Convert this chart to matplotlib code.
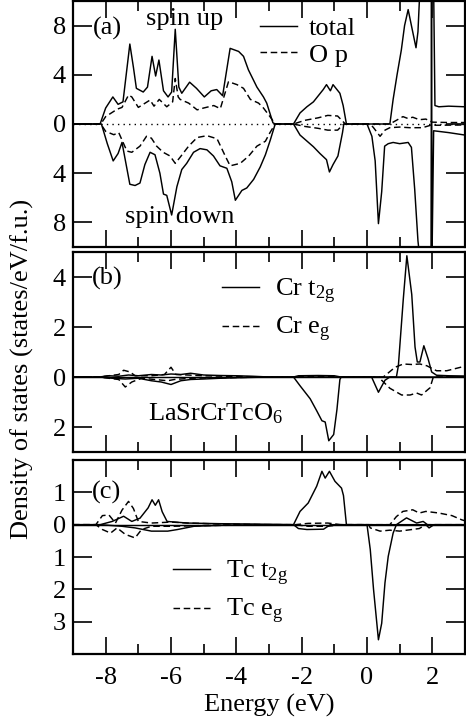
import matplotlib
matplotlib.use("Agg")
import matplotlib.pyplot as plt
from matplotlib.ticker import MultipleLocator

plt.rcParams['font.family'] = ['Liberation Serif', 'DejaVu Serif']
plt.rcParams['mathtext.fontset'] = 'custom'
plt.rcParams['mathtext.rm'] = 'Liberation Serif'
plt.rcParams['mathtext.it'] = 'Liberation Serif:italic'
FS = 19

# ---------------- Panel (a): total and O p ----------------
a_tot_up_E = [-9, -8.17, -8.0, -7.78, -7.62, -7.47, -7.26, -7.15, -7.06, -6.85, -6.72, -6.58, -6.47,
              -6.37, -6.23, -6.09, -5.98, -5.87, -5.76, -5.67, -5.43, -5.22, -4.98, -4.77, -4.6,
              -4.42, -4.19, -3.93, -3.78, -3.63, -3.37, -3.17, -3.07, -2.88, -2.81, -2.25, -2.05,
              -1.84, -1.64, -1.34, -1.24, -1.12, -1.04, -0.83, -0.73, -0.63, 0.7, 0.8, 0.92, 1.05,
              1.15, 1.26, 1.36, 1.5, 1.56, 1.62, 2.04, 2.08, 2.2, 2.5, 3.0]
a_tot_up_v = [0, 0, 1.3, 2.2, 1.6, 1.8, 6.5, 4.6, 2.9, 2.6, 3.0, 5.5, 3.9,
              5.2, 2.7, 2.2, 2.6, 7.7, 3.0, 2.5, 3.4, 2.9, 2.2, 2.7, 2.8,
              2.3, 6.15, 5.9, 5.5, 4.4, 3.0, 2.2, 1.7, 0.1, 0, 0, 0.9,
              1.4, 1.8, 2.8, 3.2, 2.7, 3.2, 2.5, 1.5, 0, 0, 2.0, 4.0, 6.0,
              8.0, 9.3, 8.0, 6.2, 7.5, 11, 11, 1.5, 1.4, 1.45, 1.4]

a_tot_dn_E = [-9, -8.13, -7.95, -7.77, -7.62, -7.5, -7.26, -7.1, -6.95, -6.8, -6.64, -6.49, -6.34,
              -6.23, -6.13, -5.98, -5.82, -5.67, -5.52, -5.31, -5.11, -4.9, -4.7, -4.5, -4.29,
              -4.14, -4.03, -3.83, -3.68, -3.47, -3.27, -3.11, -2.96, -2.81, -2.25, -2.05, -1.64,
              -1.44, -1.24, -1.15, -1.04, -0.89, -0.75, -0.71, 0.0, 0.15, 0.25, 0.35, 0.45, 0.54,
              0.65, 0.8, 1.0, 1.26, 1.36, 1.46, 1.56, 1.62, 1.96, 1.975, 1.99, 2.04, 2.5, 3.0]
a_tot_dn_v = [0, 0, -1.6, -3.0, -2.4, -1.5, -4.9, -5.0, -4.8, -3.3, -2.3, -2.5, -4.0,
              -5.7, -5.8, -7.4, -5.1, -3.7, -3.2, -2.3, -2.0, -2.1, -2.6, -3.4, -3.6,
              -4.7, -6.2, -5.4, -5.2, -4.5, -3.5, -2.5, -1.3, 0, 0, -0.9, -1.85,
              -2.4, -2.9, -3.9, -3.3, -2.6, -0.7, 0, 0, -1.0, -3.0, -8.1, -5.5, -1.8,
              -1.6, -1.5, -1.6, -1.5, -1.9, -5.3, -9.5, -11, -11, 11, -11, -0.55, -0.7, -0.9]

a_op_up_E = [-9, -8.15, -8.0, -7.65, -7.5, -7.3, -7.2, -7.0, -6.85, -6.64, -6.52, -6.36, -6.13,
             -5.95, -5.87, -5.78, -5.72, -5.46, -5.2, -5.0, -4.69, -4.49, -4.24, -3.98, -3.78,
             -3.57, -3.32, -3.17, -2.97, -2.81, -2.25, -1.9, -1.5, -1.2, -0.9, -0.7, -0.65,
             0.7, 0.9, 1.1, 1.25, 1.4, 1.6, 1.8, 2.0, 2.5, 3.0]
a_op_up_v = [0, 0, 0.6, 1.2, 1.35, 2.35, 2.2, 1.35, 1.6, 1.95, 1.45, 2.0, 1.4,
             1.8, 3.7, 2.2, 2.0, 1.7, 1.15, 1.3, 1.5, 1.25, 3.44, 3.2, 2.9,
             2.0, 1.7, 1.3, 0.6, 0, 0, 0.3, 0.5, 0.7, 0.65, 0.1, 0,
             0, 0.3, 0.6, 0.45, 0.55, 0.35, 0.4, 0.15, 0.12, 0.12]

a_op_dn_E = [-9, -8.15, -8.0, -7.75, -7.6, -7.35, -7.2, -6.95, -6.75, -6.6, -6.44, -6.24, -6.03,
             -5.87, -5.72, -5.46, -5.2, -4.9, -4.59, -4.34, -4.19, -3.88, -3.62, -3.37, -3.11,
             -2.97, -2.81, -2.25, -1.9, -1.5, -1.2, -0.9, -0.75, -0.7, 0.1, 0.2, 0.4, 0.55,
             0.7, 1.0, 1.3, 1.7, 1.95, 2.2, 3.0]
a_op_dn_v = [0, 0, -0.6, -0.87, -0.7, -2.2, -2.3, -1.8, -1.0, -1.15, -1.8, -2.3, -2.6,
             -3.2, -2.7, -1.8, -1.1, -0.95, -1.2, -2.6, -3.4, -3.2, -2.6, -1.8, -1.4,
             -0.7, 0, 0, -0.2, -0.35, -0.5, -0.5, -0.1, 0, 0, -0.3, -1.0, -0.5,
             -0.3, -0.25, -0.3, -0.3, -0.1, -0.1, -0.08]

# ---------------- Panel (b): Cr t2g and Cr eg ----------------
b_t2g_up_E = [-9, -8.2, -7.9, -7.6, -7.3, -7.0, -6.6, -6.3, -6.0, -5.7, -5.4, -5.0, -4.5, -4.0,
              -3.5, -3.0, -2.25, -2.1, -1.5, -1.0, -0.8, 0.9, 0.96, 1.11, 1.22, 1.37, 1.47,
              1.54, 1.62, 1.74, 1.87, 1.98, 2.13, 2.5, 3.0]
b_t2g_up_v = [0, 0, 0.05, 0.03, 0.08, 0.05, 0.1, 0.08, 0.12, 0.1, 0.15, 0.08, 0.06, 0.05,
              0.03, 0, 0, 0.05, 0.06, 0.05, 0, 0, 0.45, 3.1, 4.85, 3.3, 1.2,
              0.6, 0.6, 1.25, 0.73, 0.2, 0.07, 0.05, 0.04]

b_t2g_dn_E = [-9, -8.2, -7.8, -7.4, -7.0, -6.6, -6.3, -6.0, -5.7, -5.4, -5.0, -4.5, -4.0, -3.0,
              -2.25, -2.05, -1.74, -1.54, -1.38, -1.28, -1.17, -1.02, -0.92, -0.83, -0.79,
              0.14, 0.35, 0.55, 0.7, 3.0]
b_t2g_dn_v = [0, 0, -0.05, -0.08, -0.05, -0.15, -0.2, -0.3, -0.15, -0.1, -0.08, -0.05, -0.03, 0,
              0, -0.35, -0.87, -1.35, -1.75, -1.8, -2.55, -2.3, -1.3, -0.1, 0,
              0, -0.61, -0.13, 0, 0]

b_eg_up_E = [-9, -8.2, -7.6, -7.45, -7.25, -7.1, -6.6, -6.2, -6.0, -5.85, -5.5, -5.0, -4.0, -3.0,
             -2.2, -1.8, -1.2, -0.8, 0.5, 0.86, 1.11, 1.37, 1.62, 1.83, 2.13, 2.44, 2.9, 3.0]
b_eg_up_v = [0, 0, 0.1, 0.27, 0.2, 0.05, 0.05, 0.1, 0.39, 0.1, 0.08, 0.05, 0.02, 0,
             0, 0.03, 0.03, 0, 0, 0.39, 0.52, 0.5, 0.52, 0.45, 0.25, 0.25, 0.4, 0.4]

b_eg_dn_E = [-9, -8.2, -7.6, -7.4, -7.2, -6.9, -6.5, -6.1, -5.9, -5.4, -4.0, -3.0, 0.4, 0.45,
             0.7, 1.06, 1.32, 1.52, 1.67, 1.93, 2.03, 3.0]
b_eg_dn_v = [0, 0, -0.1, -0.4, -0.2, -0.05, -0.1, -0.15, -0.1, -0.05, -0.02, 0, 0, -0.13,
             -0.45, -0.72, -0.72, -0.64, -0.72, -0.43, 0, 0]

# ---------------- Panel (c): Tc t2g and Tc eg ----------------
c_t2g_up_E = [-9, -8.17, -7.8, -7.45, -7.2, -6.95, -6.7, -6.58, -6.48, -6.38, -6.27, -6.12, -5.5,
              -4.5, -3.5, -2.25, -2.05, -1.8, -1.54, -1.38, -1.28, -1.15, -0.98, -0.78, -0.72,
              -0.63, 0.9, 1.21, 1.52, 1.72, 1.85, 2.05, 3.0]
c_t2g_up_v = [0, 0, 0.1, 0.26, 0.1, 0.2, 0.52, 0.77, 0.6, 0.77, 0.4, 0.1, 0.05,
              0.03, 0.02, 0, 0.41, 0.67, 1.19, 1.65, 1.44, 1.65, 1.34, 1.13, 0.9,
              0, 0, 0.21, 0.05, 0.1, 0.0, 0, 0]

c_t2g_dn_E = [-9, -8.17, -7.5, -7.1, -6.6, -6.1, -5.8, -5.3, -4.5, -3.0, -2.25, -2.1, -1.84, -1.33,
              -1.12, 0.0, 0.1, 0.2, 0.35, 0.45, 0.55, 0.65, 0.8, 0.9, 1.8, 1.9, 2.05, 3.0]
c_t2g_dn_v = [0, 0, -0.05, -0.1, -0.2, -0.2, -0.15, -0.05, -0.02, 0, 0, -0.12, -0.15, -0.14,
              0, 0, -0.77, -2.0, -3.56, -3.05, -1.8, -0.98, -0.26, 0, 0, -0.1, 0, 0]

c_eg_up_E = [-9, -8.3, -8.1, -7.9, -7.7, -7.5, -7.3, -7.15, -7.0, -6.6, -6.0, -5.5, -4.5, -3.0,
             -2.2, -1.8, -1.2, -0.8, 0.7, 0.9, 1.1, 1.4, 1.6, 1.8, 2.2, 2.6, 2.9, 3.0]
c_eg_up_v = [0, 0, 0.28, 0.3, 0.05, 0.45, 0.72, 0.5, 0.1, 0.05, 0.08, 0.05, 0.02, 0,
             0, 0.04, 0.05, 0, 0, 0.25, 0.41, 0.46, 0.36, 0.41, 0.36, 0.28, 0.15, 0.12]

c_eg_dn_E = [-9, -8.3, -8.1, -7.85, -7.65, -7.4, -7.1, -6.9, -6.6, -6.0, -5.0, -3.0, -2.2, -1.8,
             -1.2, -0.8, 0.05, 0.1, 0.4, 0.7, 1.0, 1.6, 1.8, 3.0]
c_eg_dn_v = [0, 0, -0.15, -0.26, -0.1, -0.3, -0.41, -0.15, -0.05, -0.05, -0.03, 0, 0, -0.05,
             -0.05, 0, 0, -0.1, -0.2, -0.17, -0.2, -0.12, 0, 0]

x_major = [-8, -6, -4, -2, 0, 2]
x_labels = ['-8', '-6', '-4', '-2', '0', '2']
a_yticks = [-8, -4, 0, 4, 8]
a_ylabels = ['8', '4', '0', '4', '8']
b_yticks = [-2, 0, 2, 4]
b_ylabels = ['2', '0', '2', '4']
c_yticks = [-3, -2, -1, 0, 1]
c_ylabels = ['3', '2', '1', '0', '1']

W, H = 466, 721
fig = plt.figure(figsize=(W / 100, H / 100), dpi=100)

def px_axes(l, t, r, b):
    return fig.add_axes([l / W, 1 - b / H, (r - l) / W, (b - t) / H])

axa = px_axes(73, 1, 465, 247)
axb = px_axes(73, 252, 465, 452)
axc = px_axes(73, 460, 465, 654)

LW = 1.05
DASH = (4.5, 2.5)

def style(ax, yt, yl, ylim, showx):
    ax.set_xlim(-9, 3)
    ax.set_ylim(*ylim)
    ax.set_xticks(x_major)
    ax.xaxis.set_minor_locator(MultipleLocator(1))
    ax.set_yticks(yt)
    ax.set_yticklabels(yl, fontsize=FS)
    if showx:
        ax.set_xticklabels(x_labels, fontsize=FS)
    else:
        ax.set_xticklabels([])
    ax.tick_params(axis='x', which='major', direction='in', length=12, width=1.2,
                   top=True, bottom=True, pad=9)
    ax.tick_params(axis='x', which='minor', direction='in', length=7, width=1.2,
                   top=True, bottom=True)
    ax.tick_params(axis='y', which='major', direction='in', length=14, width=1.2,
                   left=True, right=True, pad=5)
    for s in ax.spines.values():
        s.set_linewidth(1.6)

# Panel a
axa.axhline(0, color='black', lw=1.0, ls=(0, (1, 3)))
l1, = axa.plot(a_tot_up_E, a_tot_up_v, color='black', lw=LW)
axa.plot(a_tot_dn_E, a_tot_dn_v, color='black', lw=LW)
l2, = axa.plot(a_op_up_E, a_op_up_v, color='black', lw=LW, ls='--', dashes=DASH)
axa.plot(a_op_dn_E, a_op_dn_v, color='black', lw=LW, ls='--', dashes=DASH)
style(axa, a_yticks, a_ylabels, (-10, 10), False)
axa.legend([l1, l2], ['total', 'O p'], loc='upper left', bbox_to_anchor=(0.477, 0.935),
           frameon=False, fontsize=FS, handlelength=1.4, handletextpad=0.45,
           labelspacing=0.1, borderpad=0, borderaxespad=0)
axa.text(0.051, 0.89, '(a)', transform=axa.transAxes, fontsize=FS, ha='left', va='center')
axa.text(0.286, 0.928, 'spin up', transform=axa.transAxes, fontsize=FS, ha='center', va='center')
axa.text(0.273, 0.12, 'spin down', transform=axa.transAxes, fontsize=FS, ha='center', va='center')

# Panel b
axb.axhline(0, color='black', lw=LW)
m1, = axb.plot(b_t2g_up_E, b_t2g_up_v, color='black', lw=LW)
axb.plot(b_t2g_dn_E, b_t2g_dn_v, color='black', lw=LW)
m2, = axb.plot(b_eg_up_E, b_eg_up_v, color='black', lw=LW, ls='--', dashes=DASH)
axb.plot(b_eg_dn_E, b_eg_dn_v, color='black', lw=LW, ls='--', dashes=DASH)
style(axb, b_yticks, b_ylabels, (-3, 5), False)
axb.legend([m1, m2], [r'Cr t$_\mathrm{2g}$', r'Cr e$_\mathrm{g}$'], loc='upper left',
           bbox_to_anchor=(0.38, 0.875), frameon=False, fontsize=FS, handlelength=1.4,
           handletextpad=0.6, labelspacing=0.35, borderpad=0, borderaxespad=0)
axb.text(0.048, 0.87, '(b)', transform=axb.transAxes, fontsize=FS, ha='left', va='center')
axb.text(0.191, 0.16, r'LaSrCrTcO$_\mathrm{6}$', transform=axb.transAxes, fontsize=FS,
         ha='left', va='baseline')

# Panel c
axc.axhline(0, color='black', lw=LW)
n1, = axc.plot(c_t2g_up_E, c_t2g_up_v, color='black', lw=LW)
axc.plot(c_t2g_dn_E, c_t2g_dn_v, color='black', lw=LW)
n2, = axc.plot(c_eg_up_E, c_eg_up_v, color='black', lw=LW, ls='--', dashes=DASH)
axc.plot(c_eg_dn_E, c_eg_dn_v, color='black', lw=LW, ls='--', dashes=DASH)
style(axc, c_yticks, c_ylabels, (-4, 2), True)
axc.legend([n1, n2], [r'Tc t$_\mathrm{2g}$', r'Tc e$_\mathrm{g}$'], loc='upper left',
           bbox_to_anchor=(0.255, 0.49), frameon=False, fontsize=FS, handlelength=1.4,
           handletextpad=0.6, labelspacing=0.35, borderpad=0, borderaxespad=0)
axc.text(0.048, 0.835, '(c)', transform=axc.transAxes, fontsize=FS, ha='left', va='center')
axc.set_xlabel('Energy (eV)', fontsize=FS, labelpad=4)

fig.text(22 / W, 1 - 369 / H, 'Density of states (states/eV/f.u.)', rotation=90,
         fontsize=FS, ha='center', va='center')

fig.savefig('out.png', dpi=100)
